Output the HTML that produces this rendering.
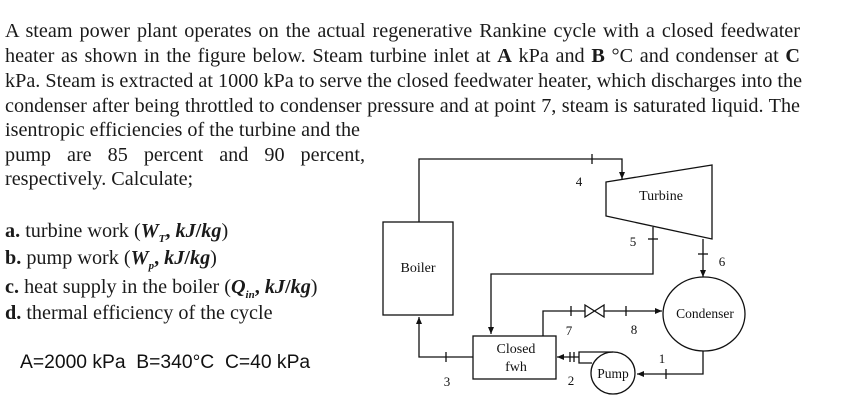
<!DOCTYPE html>
<html><head><meta charset="utf-8"><style>
html,body{margin:0;padding:0;background:#fff;width:857px;height:407px;overflow:hidden}
.p{position:absolute;left:5px;font-family:"Liberation Serif",serif;font-size:20.2px;color:#1a1a1a;line-height:25px}
.j{text-align:justify;text-align-last:justify;white-space:nowrap}
svg{position:absolute;left:0;top:0}
</style></head><body>
<div class="p j" style="top:19px;width:795px">A steam power plant operates on the actual regenerative Rankine cycle with a closed feedwater</div>
<div class="p j" style="top:44px;width:795px">heater as shown in the figure below. Steam turbine inlet at <b>A</b> kPa and <b>B</b> °C and condenser at <b>C</b></div>
<div class="p j" style="top:69px;width:795px">kPa. Steam is extracted at 1000 kPa to serve the closed feedwater heater, which discharges into the</div>
<div class="p j" style="top:94px;width:795px">condenser after being throttled to condenser pressure and at point 7, steam is saturated liquid. The</div>
<div class="p" style="top:118px;white-space:nowrap">isentropic efficiencies of the turbine and the</div>
<div class="p j" style="top:143px;width:360px">pump are 85 percent and 90 percent,</div>
<div class="p" style="top:167px;white-space:nowrap">respectively. Calculate;</div>
<div class="p" style="top:219px;white-space:nowrap"><b>a.</b> turbine work (<b><i>W<sub style="font-size:11px">T</sub></i>, <i>kJ</i>/<i>kg</i></b>)</div>
<div class="p" style="top:246px;white-space:nowrap"><b>b.</b> pump work (<b><i>W<sub style="font-size:11px">p</sub></i>, <i>kJ</i>/<i>kg</i></b>)</div>
<div class="p" style="top:275px;white-space:nowrap"><b>c.</b> heat supply in the boiler (<b><i>Q<sub style="font-size:11px">in</sub></i>, <i>kJ</i>/<i>kg</i></b>)</div>
<div class="p" style="top:301px;white-space:nowrap"><b>d.</b> thermal efficiency of the cycle</div>
<div style="position:absolute;left:20px;top:352px;font-family:'Liberation Sans',sans-serif;font-size:19.3px;white-space:nowrap;color:#111">A=2000 kPa&nbsp; B=340°C&nbsp; C=40 kPa</div>
<svg width="857" height="407" viewBox="0 0 857 407" font-family="Liberation Serif, serif" font-size="14" fill="none" stroke="#111" stroke-width="1.3">
<defs><marker id="a" markerWidth="8" markerHeight="8" refX="7" refY="4" orient="auto" markerUnits="userSpaceOnUse"><path d="M0,1 L7,4 L0,7 z" fill="#111" stroke="none"/></marker></defs>
<rect x="383" y="222" width="70" height="93"/>
<path d="M419,222 V159 H622 V179" marker-end="url(#a)"/>
<path d="M592,154 V164"/>
<path d="M606,182 L712,165 L712,239 L606,216 Z"/>
<path d="M653,227 V274 H491 V334" marker-end="url(#a)"/>
<path d="M648,239 H658"/>
<path d="M703,239 V277" marker-end="url(#a)"/>
<path d="M698,254 H708"/>
<ellipse cx="704" cy="314" rx="41" ry="37"/>
<rect x="473" y="336" width="83" height="43"/>
<path d="M543,336 V311 H585"/>
<path d="M585,305 L604,317 L604,305 L585,317 Z"/>
<path d="M604,311 H662" marker-end="url(#a)"/>
<path d="M571,306 V316 M626,306 V316"/>
<path d="M703,351 V374 H637" marker-end="url(#a)"/>
<path d="M666,369 V379"/>
<ellipse cx="613" cy="373" rx="22" ry="21"/>
<path d="M613,352 H579 V363 H592"/>
<path d="M579,357 H557" marker-end="url(#a)"/>
<path d="M570,352 V362 M574,352 V362"/>
<path d="M473,357 H419 V317" marker-end="url(#a)"/>
<path d="M446,352 V362"/>
<g fill="#111" stroke="none">
<text x="418" y="272" text-anchor="middle">Boiler</text>
<text x="661" y="200" text-anchor="middle">Turbine</text>
<text x="705" y="318" text-anchor="middle" font-size="13.5">Condenser</text>
<text x="516" y="353" text-anchor="middle">Closed</text>
<text x="516" y="371" text-anchor="middle">fwh</text>
<text x="613" y="378" text-anchor="middle" font-size="13.5">Pump</text>
<text x="579" y="186" text-anchor="middle" font-size="13">4</text>
<text x="633" y="246" text-anchor="middle" font-size="13">5</text>
<text x="722" y="266" text-anchor="middle" font-size="13">6</text>
<text x="569" y="335" text-anchor="middle" font-size="13">7</text>
<text x="634" y="334" text-anchor="middle" font-size="13">8</text>
<text x="662" y="363" text-anchor="middle" font-size="13">1</text>
<text x="571" y="385" text-anchor="middle" font-size="13">2</text>
<text x="447" y="386" text-anchor="middle" font-size="13">3</text>
</g>
</svg>
</body></html>
